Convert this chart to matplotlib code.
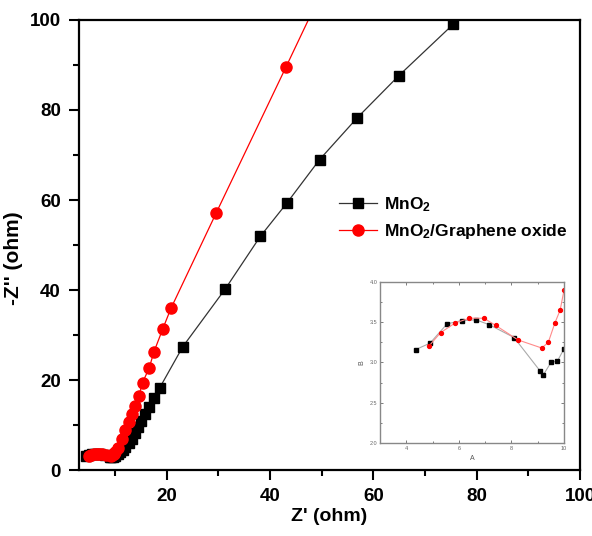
import numpy as np
import matplotlib.pyplot as plt
from matplotlib.ticker import MultipleLocator

plt.rcParams['font.family'] = ['Liberation Sans', 'DejaVu Sans']
plt.rcParams['font.weight'] = 'bold'
plt.rcParams['mathtext.fontset'] = 'custom'
plt.rcParams['mathtext.rm'] = 'Liberation Sans:bold'
plt.rcParams['mathtext.bf'] = 'Liberation Sans:bold'
plt.rcParams['mathtext.default'] = 'bf'

# MnO2
mno2_x = [4.35, 4.9, 5.55, 6.1, 6.65, 7.15, 8.1, 9.1, 9.2, 9.5, 9.75, 10.0,
          10.5, 11.0, 11.5, 12.0, 12.6, 13.2, 13.9, 14.5, 15.1, 15.8, 16.6,
          17.5, 18.6, 23.1, 31.3, 38.1, 43.3, 49.6, 56.9, 64.9, 75.5]
mno2_y = [3.16, 3.24, 3.48, 3.52, 3.53, 3.47, 3.31, 2.89, 2.84, 3.0, 3.02, 3.17,
          3.5, 3.9, 4.5, 5.2, 6.0, 7.0, 8.2, 9.6, 11.0, 12.5, 14.0,
          16.0, 18.2, 27.4, 40.2, 51.9, 59.4, 69.0, 78.3, 87.6, 99.1]

# MnO2/Graphene oxide
go_x = [4.85, 5.3, 5.85, 6.4, 6.95, 7.4, 8.25, 9.15, 9.4, 9.65, 9.85, 10.0,
        10.6, 11.3, 11.9, 12.6, 13.2, 13.9, 14.6, 15.3, 16.6, 17.5, 19.2,
        20.8, 29.6, 43.1, 56.5]
go_y = [3.2, 3.37, 3.49, 3.55, 3.55, 3.46, 3.28, 3.18, 3.25, 3.49, 3.65, 3.9,
        4.8, 7.0, 8.9, 10.7, 12.4, 14.3, 16.4, 19.4, 22.7, 26.2, 31.3,
        35.9, 57.2, 89.6, 122.0]

fig = plt.figure(figsize=(5.92, 5.36), dpi=100)
ax = fig.add_axes([0.1334, 0.1231, 0.8463, 0.8396])

ax.plot(mno2_x, mno2_y, color='#333333', lw=0.9, marker='s', ms=7,
        mfc='black', mec='black', label='MnO$_2$')
ax.plot(go_x, go_y, color='red', lw=0.9, marker='o', ms=8,
        mfc='red', mec='red', label='MnO$_2$/Graphene oxide')

ax.set_xlim(3, 100)
ax.set_ylim(0, 100)
ax.xaxis.set_major_locator(MultipleLocator(20))
ax.xaxis.set_minor_locator(MultipleLocator(10))
ax.yaxis.set_major_locator(MultipleLocator(20))
ax.yaxis.set_minor_locator(MultipleLocator(10))
ax.tick_params(which='major', direction='out', length=7, width=1.5, labelsize=13.5, pad=6)
ax.tick_params(which='minor', direction='out', length=4, width=1.5)
for s in ax.spines.values():
    s.set_linewidth(1.6)
for lab in ax.get_xticklabels() + ax.get_yticklabels():
    lab.set_fontweight('bold')

ax.set_xlabel("Z' (ohm)", fontsize=14, fontweight='bold', labelpad=2)
ax.set_ylabel("-Z'' (ohm)", fontsize=15, fontweight='bold')
ax.yaxis.set_label_coords(-0.112, 0.47)

ax.legend(loc='upper left', bbox_to_anchor=(0.487, 0.645), frameon=False,
          handlelength=2.2, labelspacing=0.45, handletextpad=0.4,
          prop={'weight': 'bold', 'size': 12.5})

# inset
ins = fig.add_axes([0.642, 0.1735, 0.3108, 0.3004])
ins.plot(mno2_x, mno2_y, color='#aaaaaa', lw=0.8, marker='s', ms=2.5,
         mfc='black', mec='black')
ins.plot(go_x, go_y, color='#ff8a8a', lw=0.8, marker='o', ms=2.8,
         mfc='red', mec='red')
ins.set_xlim(3, 10)
ins.set_ylim(2.0, 4.0)
ins.xaxis.set_major_locator(MultipleLocator(2))
ins.xaxis.set_minor_locator(MultipleLocator(1))
ins.yaxis.set_major_locator(MultipleLocator(0.5))
ins.yaxis.set_minor_locator(MultipleLocator(0.25))
ins.tick_params(which='both', direction='in', top=True, right=True,
                labelsize=4, colors='#666666', width=0.6, pad=2)
ins.tick_params(which='major', length=2.5)
ins.tick_params(which='minor', length=1.5)
for s in ins.spines.values():
    s.set_color('#888888')
    s.set_linewidth(1.0)
for lab in ins.get_xticklabels() + ins.get_yticklabels():
    lab.set_fontweight('normal')
ins.set_xlabel('A', fontsize=5, fontweight='normal', color='#555555', labelpad=3)
ins.set_ylabel('B', fontsize=5, fontweight='normal', color='#555555', labelpad=3)

fig.savefig('out.png', dpi=100)
